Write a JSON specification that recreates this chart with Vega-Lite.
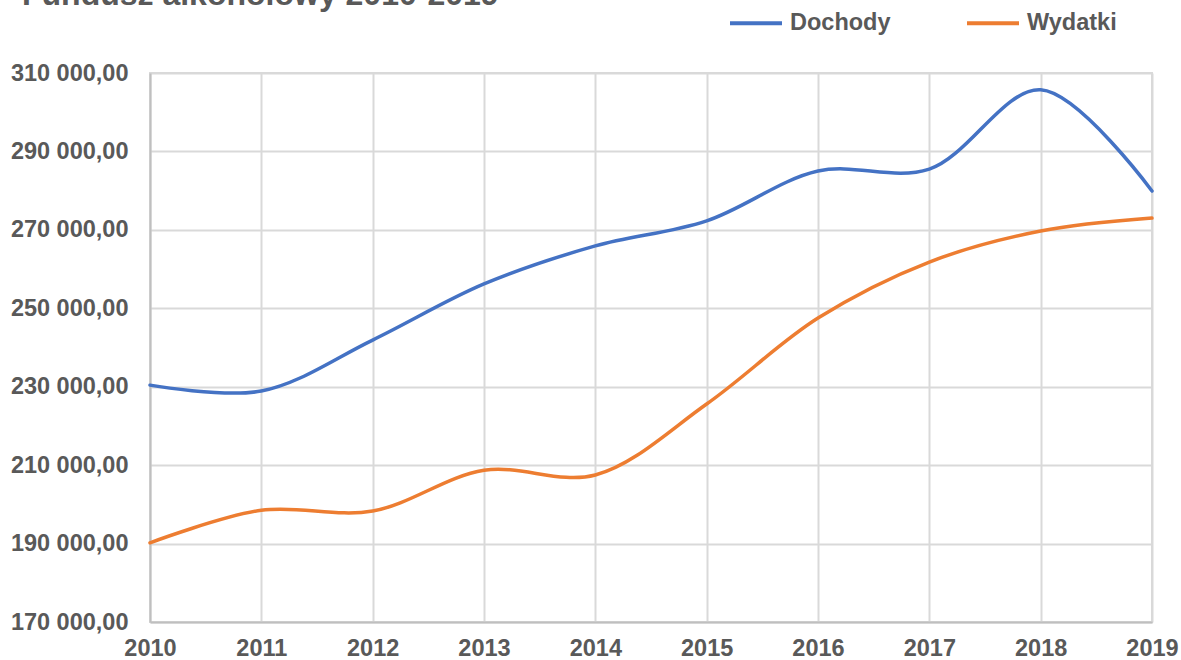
{
  "$schema": "https://vega.github.io/schema/vega-lite/v6.json",
  "width": 1002,
  "height": 549,
  "autosize": {"type": "none"},
  "padding": {"left": 150, "top": 73, "right": 29, "bottom": 38},
  "background": "white",
  "title": {
    "text": "Fundusz alkoholowy 2010-2019",
    "anchor": "start",
    "frame": "group",
    "dx": -128,
    "dy": 42,
    "offset": 0,
    "baseline": "alphabetic",
    "font": "Liberation Sans",
    "fontSize": 32,
    "fontWeight": "bold",
    "color": "#595959"
  },
  "data": {
    "values": [
      {"year": 2010, "series": "Dochody", "value": 230400},
      {"year": 2011, "series": "Dochody", "value": 228900},
      {"year": 2012, "series": "Dochody", "value": 241900},
      {"year": 2013, "series": "Dochody", "value": 256200},
      {"year": 2014, "series": "Dochody", "value": 265900},
      {"year": 2015, "series": "Dochody", "value": 272300},
      {"year": 2016, "series": "Dochody", "value": 285000},
      {"year": 2017, "series": "Dochody", "value": 285500},
      {"year": 2018, "series": "Dochody", "value": 305700},
      {"year": 2019, "series": "Dochody", "value": 279900},
      {"year": 2010, "series": "Wydatki", "value": 190200},
      {"year": 2011, "series": "Wydatki", "value": 198500},
      {"year": 2012, "series": "Wydatki", "value": 198300},
      {"year": 2013, "series": "Wydatki", "value": 208700},
      {"year": 2014, "series": "Wydatki", "value": 207500},
      {"year": 2015, "series": "Wydatki", "value": 225600},
      {"year": 2016, "series": "Wydatki", "value": 247500},
      {"year": 2017, "series": "Wydatki", "value": 261800},
      {"year": 2018, "series": "Wydatki", "value": 269700},
      {"year": 2019, "series": "Wydatki", "value": 273000}
    ]
  },
  "mark": {"type": "line", "interpolate": "catmull-rom", "strokeWidth": 3.5, "strokeCap": "round"},
  "encoding": {
    "x": {
      "field": "year",
      "type": "quantitative",
      "scale": {"domain": [2010, 2019], "nice": false, "zero": false},
      "axis": {
        "title": null,
        "values": [2010, 2011, 2012, 2013, 2014, 2015, 2016, 2017, 2018, 2019],
        "format": "d",
        "grid": true,
        "ticks": false,
        "labelPadding": 14,
        "labelFlush": false
      }
    },
    "y": {
      "field": "value",
      "type": "quantitative",
      "scale": {"domain": [170000, 310000], "nice": false, "zero": false},
      "axis": {
        "title": null,
        "values": [170000, 190000, 210000, 230000, 250000, 270000, 290000, 310000],
        "format": ",.2f",
        "grid": true,
        "ticks": false,
        "labelPadding": 22
      }
    },
    "color": {
      "field": "series",
      "type": "nominal",
      "scale": {"domain": ["Dochody", "Wydatki"], "range": ["#4472C4", "#ED7D31"]},
      "legend": {
        "title": null,
        "orient": "none",
        "direction": "horizontal",
        "legendX": 578,
        "legendY": -78,
        "symbolType": "stroke",
        "symbolSize": 2704,
        "symbolStrokeWidth": 4,
        "labelOffset": 6,
        "columnPadding": 68,
        "labelFont": "Liberation Sans",
        "labelFontSize": 23.5,
        "labelFontWeight": "bold",
        "labelColor": "#595959"
      }
    }
  },
  "config": {
    "locale": {"number": {"decimal": ",", "thousands": " ", "grouping": [3], "currency": ["", " zł"]}},
    "view": {"stroke": "#d9d9d9", "strokeWidth": 2},
    "axis": {
      "labelFont": "Liberation Sans",
      "labelFontSize": 23.5,
      "labelFontWeight": "bold",
      "labelColor": "#595959",
      "gridColor": "#d9d9d9",
      "gridWidth": 2,
      "domainColor": "#bfbfbf",
      "domainWidth": 2
    }
  }
}
